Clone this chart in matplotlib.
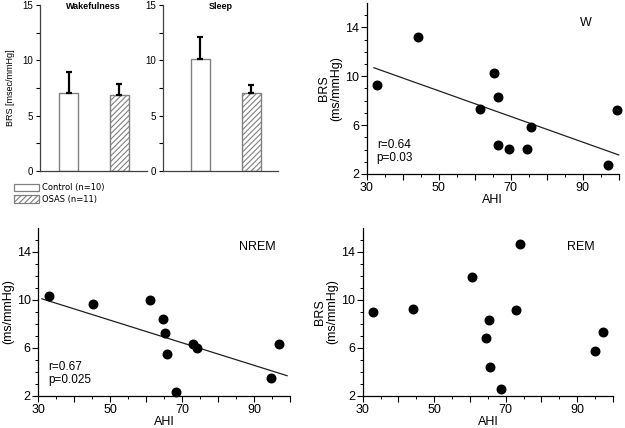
import numpy as np
import matplotlib
matplotlib.use("Agg")
import matplotlib.pyplot as plt
from matplotlib.patches import Patch

plt.rcParams['font.family'] = ['Liberation Sans', 'DejaVu Sans']
plt.rcParams['hatch.color'] = '#707070'
plt.rcParams['hatch.linewidth'] = 0.8

# bar panels
groups = ['Control (n=10)', 'OSAS (n=11)']
wake_mean = [7.0, 6.9]
wake_err = [1.9, 1.0]
sleep_mean = [10.1, 7.0]
sleep_err = [2.0, 0.8]

# scatter panels (AHI vs BRS)
w_ahi = [32.9, 44.3, 65.4, 66.5, 61.6, 75.6, 66.4, 69.4, 74.4, 97.1, 99.4]
w_brs = [9.28, 13.2, 10.29, 8.3, 7.35, 5.82, 4.37, 4.05, 4.05, 2.76, 7.27]
w_fit_x = [32, 100]
w_fit_y = [10.7, 3.56]

nrem_ahi = [33.0, 45.1, 61.0, 64.7, 65.1, 65.8, 72.9, 74.0, 68.3, 94.8, 96.9]
nrem_brs = [10.37, 9.65, 10.04, 8.43, 7.24, 5.52, 6.3, 5.99, 2.36, 3.47, 6.3]
nrem_fit_x = [31, 99.2]
nrem_fit_y = [10.1, 3.69]

rem_ahi = [33.0, 44.0, 60.6, 74.1, 73.0, 65.3, 64.4, 65.6, 68.6, 95.1, 97.2]
rem_brs = [9.0, 9.26, 11.92, 14.66, 9.15, 8.34, 6.82, 4.41, 2.58, 5.71, 7.37]

fig = plt.figure(figsize=(6.25, 4.28), dpi=100)

def bar_panel(rect, means, errs, title, xlim, ylabel=None):
    ax = fig.add_axes(rect)
    x = np.arange(len(means))
    ax.bar(x, means, width=0.37, color='white', edgecolor='#808080', linewidth=1.0,
           hatch=['', '//////'], zorder=2)
    ax.errorbar(x, means, yerr=[np.zeros(len(errs)), errs], fmt='none', ecolor='black',
                elinewidth=1.6, capsize=2.5, capthick=1.6, zorder=3)
    ax.set_xlim(xlim)
    ax.set_ylim(0, 15)
    ax.set_yticks([0, 5, 10, 15])
    ax.set_yticks([2.5, 7.5, 12.5], minor=True)
    ax.set_xticks([])
    for s in ['top', 'right']:
        ax.spines[s].set_visible(False)
    for s in ['left', 'bottom']:
        ax.spines[s].set_color('#404040')
        ax.spines[s].set_linewidth(0.9)
    ax.tick_params(axis='y', which='both', length=3, width=0.8, labelsize=7, pad=2)
    ax.text(0.5, 0.99, title, transform=ax.transAxes, ha='center', va='center',
            fontsize=6.5, fontweight='bold')
    if ylabel:
        ax.set_ylabel(ylabel, fontsize=6.5, labelpad=5)
    return ax

ax1 = bar_panel([0.064, 0.6005, 0.171, 0.388], wake_mean, wake_err, 'Wakefulness',
                (-0.56, 1.54), 'BRS [msec/mmHg]')
ax2 = bar_panel([0.2608, 0.6005, 0.184, 0.388], sleep_mean, sleep_err, 'Sleep',
                (-0.735, 1.52))

handles = [Patch(facecolor='white', edgecolor='#808080', linewidth=0.9),
           Patch(facecolor='white', edgecolor='#808080', linewidth=0.9, hatch='//////')]
fig.legend(handles, groups, loc='upper left', bbox_to_anchor=(0.022, 0.572),
           frameon=False, handlelength=3.0, handleheight=1.0,
           handletextpad=0.4, labelspacing=0.3, borderpad=0, borderaxespad=0,
           prop={'family': 'DejaVu Sans', 'size': 6})

def scatter_panel(rect, xs, ys, label, fit=None, stats=None, ylabel='BRS\n(ms/mmHg)'):
    ax = fig.add_axes(rect)
    ax.scatter(xs, ys, s=38, color='black', zorder=3, clip_on=False)
    if fit is not None:
        ax.plot(fit[0], fit[1], color='#202020', linewidth=0.9, zorder=2, clip_on=False)
    ax.set_xlim(30, 100)
    ax.set_ylim(2, 16)
    ax.set_xticks(range(30, 101, 10))
    ax.set_xticklabels(['30', '', '50', '', '70', '', '90', ''])
    ax.set_xticks(range(35, 100, 10), minor=True)
    ax.set_yticks([2, 6, 10, 14])
    ax.set_yticks(range(3, 16), minor=True)
    for s in ['top', 'right']:
        ax.spines[s].set_visible(False)
    for s in ['left', 'bottom']:
        ax.spines[s].set_linewidth(0.9)
    ax.tick_params(which='major', length=4, width=0.8, labelsize=9, pad=1.5)
    ax.tick_params(which='minor', length=2.5, width=0.7)
    ax.set_xlabel('AHI', fontsize=9, labelpad=0)
    ax.set_ylabel(ylabel, fontsize=9, labelpad=2, linespacing=1.0)
    ax.text(0.87, 0.885, label, transform=ax.transAxes, ha='center', va='center', fontsize=9)
    if stats is not None:
        ax.text(0.04, 0.17, stats[0], transform=ax.transAxes, ha='left', va='center', fontsize=8.5)
        ax.text(0.04, 0.093, stats[1], transform=ax.transAxes, ha='left', va='center', fontsize=8.5)
    return ax

ax3 = scatter_panel([0.5867, 0.5935, 0.4032, 0.3995], w_ahi, w_brs, 'W',
                    fit=(w_fit_x, w_fit_y), stats=('r=0.64', 'p=0.03'))
ax4 = scatter_panel([0.0613, 0.0748, 0.4027, 0.3925], nrem_ahi, nrem_brs, 'NREM',
                    fit=(nrem_fit_x, nrem_fit_y), stats=('r=0.67', 'p=0.025'),
                    ylabel='(ms/mmHg)')
ax5 = scatter_panel([0.5803, 0.0748, 0.4005, 0.3925], rem_ahi, rem_brs, 'REM')

fig.savefig('out.png', dpi=100)
